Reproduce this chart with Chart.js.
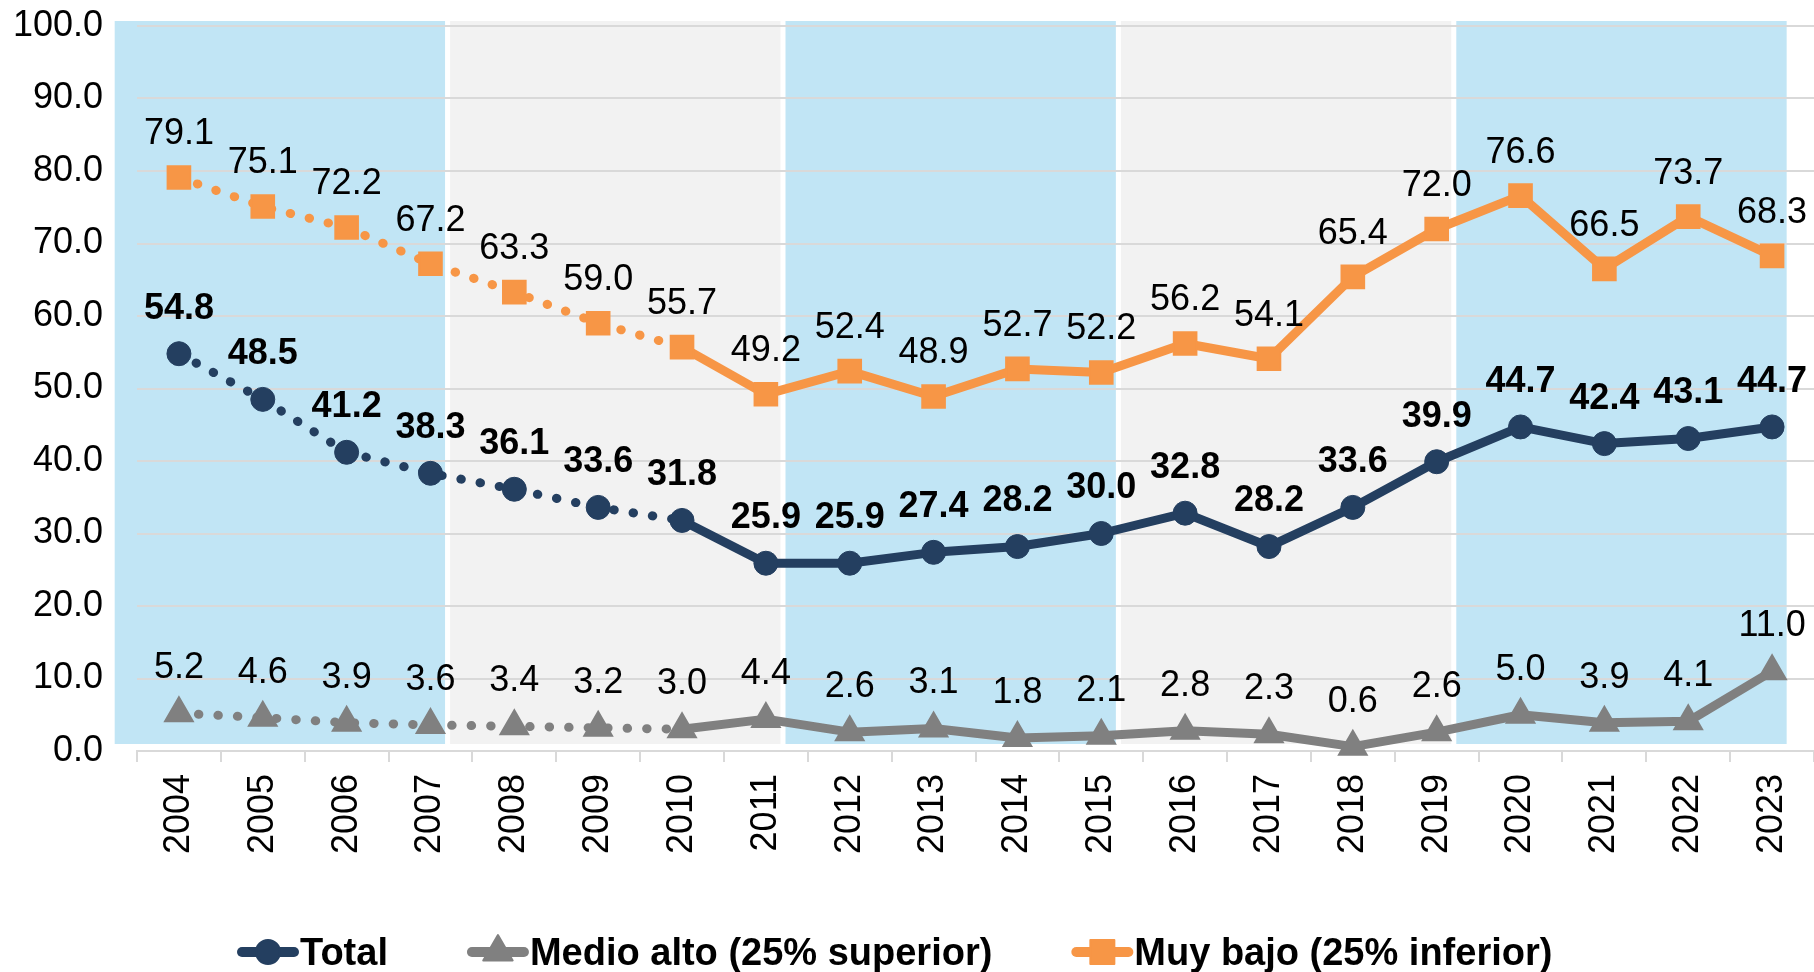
<!DOCTYPE html>
<html>
<head>
<meta charset="utf-8">
<script src="https://cdn.jsdelivr.net/npm/chart.js@4"></script>
<style>
html,body{margin:0;padding:0;background:#ffffff;}
canvas{display:block;}
</style>
</head>
<body>
<canvas id="c" width="1814" height="972"></canvas>
<script>
// ---- data ----
const years = ['2004','2005','2006','2007','2008','2009','2010','2011','2012','2013','2014','2015','2016','2017','2018','2019','2020','2021','2022','2023'];
const total = [54.8,48.5,41.2,38.3,36.1,33.6,31.8,25.9,25.9,27.4,28.2,30.0,32.8,28.2,33.6,39.9,44.7,42.4,43.1,44.7];
const medioAlto = [5.2,4.6,3.9,3.6,3.4,3.2,3.0,4.4,2.6,3.1,1.8,2.1,2.8,2.3,0.6,2.6,5.0,3.9,4.1,11.0];
const muyBajo = [79.1,75.1,72.2,67.2,63.3,59.0,55.7,49.2,52.4,48.9,52.7,52.2,56.2,54.1,65.4,72.0,76.6,66.5,73.7,68.3];
const periods = ['2004-2007','2008-2011','2012-2015','2016-2019','2020-2023'];
const periodBand = [1,1,1,1,1];
const seriesNames = ['Total','Medio alto (25% superior)','Muy bajo (25% inferior)'];
const yMin = 0, yMax = 100, yStep = 10;

// ---- styles ----
const FONT = "'Liberation Sans', Arial, Helvetica, sans-serif";
const NAVY = '#243F60', GRAY = '#808080', ORANGE = '#F79646';
const BAND_BLUE = '#C1E5F5', BAND_GRAY = '#F2F2F2', GRID = '#D9D9D9';
const DOTTED_SEGMENTS = 6; // segments before this index drawn dotted

const dotted = ctx => ctx.p0DataIndex < DOTTED_SEGMENTS;
const segmentStyle = {
  borderDash: ctx => dotted(ctx) ? [0.5, 19] : undefined,
  borderCapStyle: ctx => dotted(ctx) ? 'round' : 'butt'
};

const noPad = scale => { scale.paddingLeft = 0; scale.paddingRight = 0; scale.paddingTop = 0; scale.paddingBottom = 0; };

const bandPlugin = {
  id: 'bandsBehind',
  beforeDraw(chart) {
    const meta = chart.getDatasetMeta(0);
    if (meta && meta.controller) meta.controller.draw();
  },
  beforeDatasetDraw(chart, args) {
    if (args.index === 0) return false;
  }
};

const labelPlugin = {
  id: 'valueLabels',
  afterDatasetsDraw(chart) {
    const ctx = chart.ctx;
    chart.data.datasets.forEach((ds, i) => {
      if (!ds.labelOffset) return;
      const meta = chart.getDatasetMeta(i);
      ctx.save();
      ctx.font = ds.labelFont;
      ctx.fillStyle = '#000000';
      ctx.textAlign = 'center';
      ctx.textBaseline = 'middle';
      meta.data.forEach((el, j) => {
        ctx.fillText(ds.data[j].toFixed(1), el.x, el.y - ds.labelOffset);
      });
      ctx.restore();
    });
  }
};

const legendPlugin = {
  id: 'customLegend',
  afterDraw(chart) {
    const ctx = chart.ctx;
    const y = 952;
    let x = 238;
    ctx.save();
    ctx.font = 'bold 38px ' + FONT;
    ctx.textBaseline = 'alphabetic';
    ctx.textAlign = 'left';
    [1, 2, 3].forEach(i => {
      const ds = chart.data.datasets[i];
      const col = ds.borderColor;
      ctx.strokeStyle = col; ctx.fillStyle = col;
      ctx.lineWidth = 10; ctx.lineCap = 'round';
      ctx.beginPath(); ctx.moveTo(x + 4, y); ctx.lineTo(x + 56, y); ctx.stroke();
      const cx = x + 30;
      ctx.lineWidth = 2; ctx.lineJoin = 'round';
      ctx.beginPath();
      if (ds.pointStyle === 'circle') {
        ctx.arc(cx, y, 12, 0, Math.PI * 2);
      } else if (ds.pointStyle === 'triangle') {
        const r = 17;
        ctx.moveTo(cx, y - r);
        ctx.lineTo(cx + r * 0.866, y + r * 0.5);
        ctx.lineTo(cx - r * 0.866, y + r * 0.5);
        ctx.closePath();
      } else {
        ctx.rect(cx - 12, y - 12, 24, 24);
      }
      ctx.fill(); ctx.stroke();
      ctx.fillStyle = '#000000';
      ctx.fillText(ds.label, x + 62, y + 13);
      x += 62 + ctx.measureText(ds.label).width + 80;
    });
    ctx.restore();
  }
};

new Chart(document.getElementById('c'), {
  type: 'line',
  data: {
    labels: years,
    datasets: [
      {
        type: 'bar',
        label: 'bands',
        data: periodBand.map((v, i) => ({ x: i, y: v })),
        xAxisID: 'xb',
        yAxisID: 'y2',
        backgroundColor: periods.map((p, i) => i % 2 === 0 ? BAND_BLUE : BAND_GRAY),
        borderWidth: 0,
        grouped: false,
        categoryPercentage: 1,
        barPercentage: 0.985,
        clip: false
      },
      {
        label: seriesNames[0],
        data: total,
        borderColor: NAVY,
        backgroundColor: NAVY,
        borderWidth: 9,
        borderJoinStyle: 'round',
        pointStyle: 'circle',
        pointRadius: 12,
        pointBorderWidth: 1,
        pointBackgroundColor: NAVY,
        pointBorderColor: NAVY,
        segment: segmentStyle,
        tension: 0,
        clip: false,
        labelOffset: 45,
        labelFont: 'bold 36px ' + FONT
      },
      {
        label: seriesNames[1],
        data: medioAlto,
        borderColor: GRAY,
        backgroundColor: GRAY,
        borderWidth: 9,
        borderJoinStyle: 'round',
        pointStyle: 'triangle',
        pointRadius: 16,
        pointBorderWidth: 2,
        pointBackgroundColor: GRAY,
        pointBorderColor: GRAY,
        segment: segmentStyle,
        tension: 0,
        clip: false,
        labelOffset: 45,
        labelFont: '36px ' + FONT
      },
      {
        label: seriesNames[2],
        data: muyBajo,
        borderColor: ORANGE,
        backgroundColor: ORANGE,
        borderWidth: 9,
        borderJoinStyle: 'round',
        pointStyle: 'rect',
        pointRadius: 16,
        pointBorderWidth: 2,
        pointBackgroundColor: ORANGE,
        pointBorderColor: ORANGE,
        segment: segmentStyle,
        tension: 0,
        clip: false,
        labelOffset: 43,
        labelFont: '36px ' + FONT
      }
    ]
  },
  options: {
    responsive: false,
    animation: false,
    devicePixelRatio: 1,
    layout: { autoPadding: false, padding: { top: 26, left: 0, right: 0, bottom: 0 } },
    plugins: { legend: { display: false }, tooltip: { enabled: false } },
    scales: {
      x: {
        type: 'category',
        offset: true,
        grid: { display: true, drawOnChartArea: false, offset: true, tickLength: 11, color: GRID, lineWidth: 2 },
        border: { display: true, color: GRID, width: 2 },
        ticks: { maxRotation: 90, minRotation: 90, padding: 12, color: '#000000', font: { family: FONT, size: 36 }, autoSkip: false },
        afterFit(scale) { scale.height = 221; noPad(scale); }
      },
      y: {
        min: yMin, max: yMax,
        ticks: { stepSize: yStep, padding: 0, color: '#000000', font: { family: FONT, size: 36 }, callback: v => Number(v).toFixed(1) },
        grid: { color: GRID, lineWidth: 2, drawTicks: true, tickLength: 34, tickColor: 'rgba(0,0,0,0)' },
        border: { display: false },
        afterFit(scale) { scale.width = 137; }
      },
      xb: {
        type: 'linear', display: false, position: 'bottom', offset: false,
        min: -0.426, max: 4.574,
        grid: { offset: false },
        afterFit(scale) { scale.height = 0; noPad(scale); },
        afterBuildTicks(scale) { scale.ticks = periodBand.map((v, i) => ({ value: i })); }
      },
      y2: {
        type: 'linear', display: false, position: 'right',
        min: -0.0097, max: 0.9931,
        afterFit(scale) { scale.width = 0; noPad(scale); }
      }
    }
  },
  plugins: [bandPlugin, labelPlugin, legendPlugin]
});
</script>
</body>
</html>
